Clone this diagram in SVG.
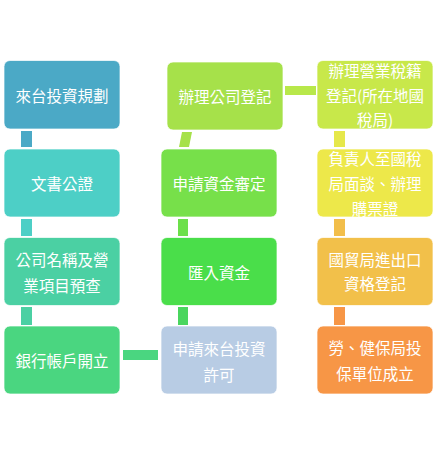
<svg xmlns="http://www.w3.org/2000/svg" width="439" height="454" viewBox="0 0 439 454">
<style>
.b{stroke:#ffffff;stroke-opacity:0.7;stroke-width:1}
.t{font-family:"Noto Sans CJK TC","Noto Sans CJK SC",sans-serif;font-size:15.5px;fill:#ffffff;text-anchor:middle;dominant-baseline:central}
</style>
<rect width="439" height="454" fill="#ffffff"/>
<g id="connectors">
<rect x="21" y="131" width="11" height="16" fill="#4BA9C6"/>
<rect x="21" y="219" width="11" height="17" fill="#4DCFC6"/>
<rect x="21" y="307" width="11" height="18" fill="#4BD0A3"/>
<rect x="123" y="350" width="35" height="10" fill="#4AD680"/>
<rect x="178" y="307" width="10" height="18" fill="#4AD65E"/>
<rect x="178" y="219" width="10" height="17" fill="#6CE04A"/>
<polygon points="182,132 192,132 189,147 179,147" fill="#A6E14A"/>
<rect x="285" y="86" width="31" height="9" fill="#B8E84A"/>
<rect x="334" y="131" width="11" height="16" fill="#E6E84A"/>
<rect x="334" y="219" width="11" height="17" fill="#F2BE4A"/>
<rect x="334" y="307" width="11" height="18" fill="#F79646"/>
</g>
<g id="n1"><rect class="b" x="4" y="60.5" width="116" height="68.5" rx="6" fill="#4BA9C6"/><text class="t" x="62" y="95">來台投資規劃</text></g>
<g id="n2"><rect class="b" x="4" y="149" width="116" height="68" rx="6" fill="#4DCFC6"/><text class="t" x="62" y="183">文書公證</text></g>
<g id="n3"><rect class="b" x="4" y="237.5" width="116" height="68" rx="6" fill="#4BD0A3"/><text class="t" x="62" y="259">公司名稱及營</text><text class="t" x="62" y="285">業項目預查</text></g>
<g id="n4"><rect class="b" x="4" y="326" width="116" height="68" rx="6" fill="#4AD680"/><text class="t" x="62" y="360">銀行帳戶開立</text></g>
<g id="n5"><rect class="b" x="161" y="326" width="116" height="68" rx="6" fill="#B8CCE4"/><text class="t" x="219" y="348">申請來台投資</text><text class="t" x="219" y="374">許可</text></g>
<g id="n6"><rect class="b" x="161" y="237.5" width="116" height="68" rx="6" fill="#4ADE4A"/><text class="t" x="219" y="272">匯入資金</text></g>
<g id="n7"><rect class="b" x="161" y="149" width="116" height="68" rx="6" fill="#77E04A"/><text class="t" x="219" y="183">申請資金審定</text></g>
<g id="n8"><rect class="b" x="167" y="62" width="116" height="68" rx="6" fill="#A6E14A"/><text class="t" x="225" y="96">辦理公司登記</text></g>
<g id="n9"><rect class="b" x="317" y="60.5" width="116" height="68.5" rx="6" fill="#C8E84A"/><text class="t" x="375" y="70">辦理營業稅籍</text><text class="t" x="375" y="95">登記(所在地國</text><text class="t" x="375" y="119">稅局)</text></g>
<g id="n10"><rect class="b" x="317" y="149" width="116" height="68" rx="6" fill="#EDE84A"/><text class="t" x="375" y="158">負責人至國稅</text><text class="t" x="375" y="183">局面談、辦理</text><text class="t" x="375" y="208">購票證</text></g>
<g id="n11"><rect class="b" x="317" y="237.5" width="116" height="68" rx="6" fill="#F2C04A"/><text class="t" x="375" y="259">國貿局進出口</text><text class="t" x="375" y="283">資格登記</text></g>
<g id="n12"><rect class="b" x="317" y="326" width="116" height="68" rx="6" fill="#F79646"/><text class="t" x="375" y="347">勞、健保局投</text><text class="t" x="375" y="373">保單位成立</text></g>
</svg>
